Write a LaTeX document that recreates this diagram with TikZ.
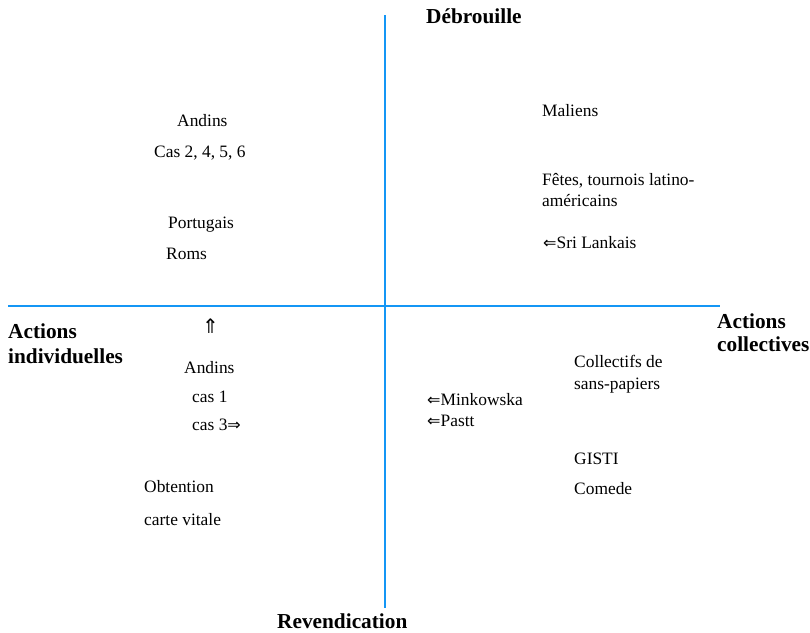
\documentclass[tikz,border=0pt]{standalone}
\usepackage{fontspec}
\setmainfont{Liberation Serif}
\newfontfamily\arrfont{DejaVu Sans}
\definecolor{axisblue}{RGB}{20,150,245}
\begin{document}
\begin{tikzpicture}[x=1pt,y=-1pt,
  lbl/.style={inner sep=0pt,anchor=west,font=\fontsize{17.4}{21}\selectfont,text height=11.5pt,text depth=3.5pt},
  ttl/.style={inner sep=0pt,anchor=west,font=\fontsize{21.3}{25}\selectfont\bfseries,text height=14pt,text depth=4pt},
  axis/.style={draw=axisblue,line width=2.4pt}]
\useasboundingbox (0,0) rectangle (810,632);
\coordinate (vt) at (385,15);
\coordinate (vb) at (385,608);
\coordinate (hl) at (8,306);
\coordinate (hr) at (720,306);
\draw[axis] (vt) -- (vb);
\draw[axis] (hl) -- (hr);
\newcommand{\la}{{\arrfont\fontsize{16}{16}\selectfont ⇐}}
\newcommand{\ra}{{\arrfont\fontsize{16}{16}\selectfont ⇒}}
\newcommand{\ua}{{\arrfont\fontsize{20}{20}\selectfont ⇑}}
% titles
\node[ttl] (deb) at (426,18) {Débrouille};
\node[ttl] (rev) at (277,623) {Revendication};
\node[ttl] (ai1) at (8,333) {Actions};
\node[ttl] (ai2) at (8,358) {individuelles};
\node[ttl] (ac1) at (717,323) {Actions};
\node[ttl] (ac2) at (717,346) {collectives};
% top-left
\node[lbl] (and1) at (177,122) {Andins};
\node[lbl] (cas2) at (154,153) {Cas 2, 4, 5, 6};
\node[lbl] (port) at (168,224) {Portugais};
\node[lbl] (roms) at (166,255) {Roms};
% top-right
\node[lbl] (mal) at (542,112) {Maliens};
\node[lbl] (fet1) at (542,181) {Fêtes, tournois latino-};
\node[lbl] (fet2) at (542,202) {américains};
\node[lbl] (sri) at (543,244) {\la Sri Lankais};
% bottom-left
\node[lbl] (up) at (202,329) {\ua};
\node[lbl] (and2) at (184,369) {Andins};
\node[lbl] (cas1) at (192,398) {cas 1};
\node[lbl] (cas3) at (192,426) {cas 3\ra};
\node[lbl] (obt) at (144,488) {Obtention};
\node[lbl] (cv) at (144,521) {carte vitale};
% bottom-right
\node[lbl] (min) at (427,401) {\la Minkowska};
\node[lbl] (pas) at (427,422) {\la Pastt};
\node[lbl] (col1) at (574,363) {Collectifs de};
\node[lbl] (col2) at (574,385) {sans-papiers};
\node[lbl] (gis) at (574,460) {GISTI};
\node[lbl] (com) at (574,490) {Comede};
\end{tikzpicture}
\end{document}
